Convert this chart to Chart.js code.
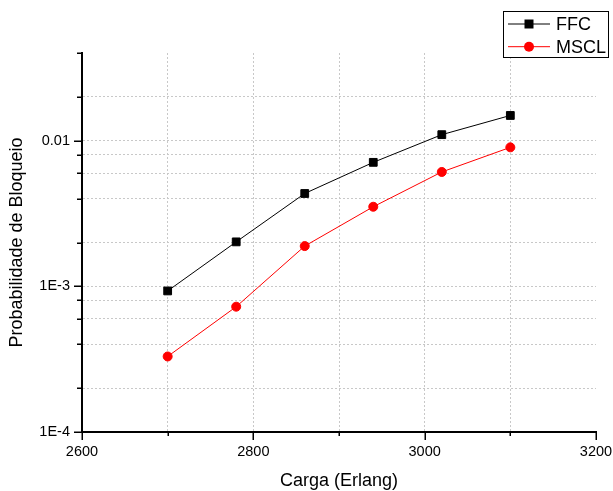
<!DOCTYPE html>
<html>
<head>
<meta charset="utf-8">
<script src="https://cdn.jsdelivr.net/npm/chart.js@4/dist/chart.umd.min.js"></script>
<style>
  html, body { margin: 0; padding: 0; background: #fff; }
  #wrap { width: 613px; height: 491px; }
</style>
</head>
<body>
<div id="wrap"><canvas id="c" width="613" height="491"></canvas></div>
<script>
// ---- data ----
const cargaValues = [2700, 2780, 2860, 2940, 3020, 3100];
const ffcValues   = [0.00093, 0.00202, 0.00434, 0.0071, 0.011, 0.0149];
const msclValues  = [0.00033, 0.000725, 0.00189, 0.00352, 0.0061, 0.0090];
const seriesNames = ['FFC', 'MSCL'];
const xTickValues = [2600, 2700, 2800, 2900, 3000, 3100, 3200];
const xTickLabels = ['2600', '', '2800', '', '3000', '', '3200'];
const yTickValues = [1e-4, 2e-4, 4e-4, 6e-4, 8e-4, 1e-3, 2e-3, 4e-3, 6e-3, 8e-3, 1e-2, 2e-2, 4e-2];
const yTickLabels = ['1E-4', '', '', '', '', '1E-3', '', '', '', '', '0.01', '', ''];
const xTitle = 'Carga (Erlang)';
const yTitle = 'Probabilidade de Bloqueio';

const FONT = '"Liberation Sans", Arial, Helvetica, sans-serif';
const GRID = '#c8c8c8';

function toPoints(xs, ys) { return xs.map((x, i) => ({ x: x, y: ys[i] })); }

const tickPlugin = {
  id: 'axisTicks',
  afterDraw(chart) {
    const ctx = chart.ctx;
    const xs = chart.scales.x, ys = chart.scales.y;
    const a = chart.chartArea;
    ctx.save();
    ctx.strokeStyle = '#000';
    ctx.lineWidth = 1.5;
    ctx.beginPath();
    yTickValues.forEach((v, i) => {
      const py = Math.round(ys.getPixelForValue(v)) + 0.25;
      const len = yTickLabels[i] ? 8 : 5;
      ctx.moveTo(a.left - len, py);
      ctx.lineTo(a.left, py);
    });
    xTickValues.forEach((v, i) => {
      const px = Math.round(xs.getPixelForValue(v)) + 0.25;
      const len = xTickLabels[i] ? 8 : 4;
      ctx.moveTo(px, a.bottom);
      ctx.lineTo(px, a.bottom + len);
    });
    ctx.stroke();
    ctx.restore();
  }
};

const legendPlugin = {
  id: 'boxLegend',
  afterDraw(chart) {
    const ctx = chart.ctx;
    const bx = 503, by = 11, bw = 105, bh = 46;
    ctx.save();
    ctx.fillStyle = '#fff';
    ctx.fillRect(bx, by, bw, bh);
    ctx.strokeStyle = '#000';
    ctx.lineWidth = 1;
    ctx.strokeRect(bx + 0.5, by + 0.5, bw, bh);
    ctx.font = '18px ' + FONT;
    ctx.textBaseline = 'middle';
    chart.data.datasets.forEach((ds, i) => {
      const cy = by + 13 + i * 22.7;
      ctx.strokeStyle = ds.borderColor;
      ctx.lineWidth = 1;
      ctx.beginPath();
      ctx.moveTo(bx + 5, cy);
      ctx.lineTo(bx + 47, cy);
      ctx.stroke();
      ctx.fillStyle = ds.borderColor;
      ctx.beginPath();
      if (ds.pointStyle === 'rect') {
        ctx.rect(bx + 26 - 4.5, cy - 4.5, 9, 9);
      } else {
        ctx.arc(bx + 26, cy, 5, 0, Math.PI * 2);
      }
      ctx.fill();
      ctx.fillStyle = '#000';
      ctx.fillText(ds.label, bx + 53, cy + 1);
    });
    ctx.restore();
  }
};

new Chart(document.getElementById('c'), {
  type: 'line',
  data: {
    datasets: [
      {
        label: seriesNames[0],
        data: toPoints(cargaValues, ffcValues),
        borderColor: '#000000',
        backgroundColor: '#000000',
        borderWidth: 1,
        pointStyle: 'rect',
        pointRadius: 5.5,
        pointHoverRadius: 5.5,
        pointBorderWidth: 1,
        tension: 0
      },
      {
        label: seriesNames[1],
        data: toPoints(cargaValues, msclValues),
        borderColor: '#ff0000',
        backgroundColor: '#ff0000',
        borderWidth: 1,
        pointStyle: 'circle',
        pointRadius: 4.5,
        pointHoverRadius: 4.5,
        pointBorderWidth: 1,
        tension: 0
      }
    ]
  },
  options: {
    responsive: false,
    animation: false,
    devicePixelRatio: 1,
    layout: { padding: { top: 53, right: 0, left: 0, bottom: 0 } },
    plugins: {
      legend: { display: false },
      tooltip: { enabled: false }
    },
    scales: {
      x: {
        type: 'linear',
        min: 2600,
        max: 3200,
        afterBuildTicks(scale) { scale.ticks = xTickValues.map(v => ({ value: v })); },
        afterFit(scale) { scale.height = 59; scale.paddingRight = 17; scale.paddingLeft = 0; },
        ticks: {
          autoSkip: false,
          maxRotation: 0,
          padding: 11,
          color: '#000',
          font: { family: FONT, size: 14.5 },
          callback(value) { const i = xTickValues.indexOf(value); return i >= 0 ? xTickLabels[i] : ''; }
        },
        grid: {
          drawTicks: false,
          lineWidth: 1,
          color(ctx) {
            const v = ctx.tick ? ctx.tick.value : null;
            return (v === xTickValues[0] || v === xTickValues[xTickValues.length - 1]) ? 'rgba(0,0,0,0)' : GRID;
          }
        },
        border: { display: true, color: '#000', width: 2, dash: [2, 2] },
        title: {
          display: true,
          text: xTitle,
          color: '#000',
          font: { family: FONT, size: 18, lineHeight: 1.1 },
          padding: { top: 0, bottom: 0 }
        }
      },
      y: {
        type: 'logarithmic',
        min: 1e-4,
        max: 0.04,
        afterBuildTicks(scale) { scale.ticks = yTickValues.map(v => ({ value: v })); },
        afterFit(scale) { scale.width = 82; },
        ticks: {
          autoSkip: false,
          padding: 12,
          color: '#000',
          font: { family: FONT, size: 14.5 },
          callback(value) {
            const i = yTickValues.findIndex(t => Math.abs(t - value) / t < 1e-6);
            return i >= 0 ? yTickLabels[i] : '';
          }
        },
        grid: {
          drawTicks: false,
          lineWidth: 1,
          color(ctx) {
            const v = ctx.tick ? ctx.tick.value : null;
            if (v === null) return GRID;
            const first = yTickValues[0], last = yTickValues[yTickValues.length - 1];
            return (Math.abs(v - first) / first < 1e-6 || Math.abs(v - last) / last < 1e-6) ? 'rgba(0,0,0,0)' : GRID;
          }
        },
        border: { display: true, color: '#000', width: 2, dash: [2, 2] },
        title: {
          display: true,
          text: yTitle,
          color: '#000',
          font: { family: FONT, size: 18, lineHeight: 1.1 },
          padding: { top: 7, bottom: 0 }
        }
      }
    }
  },
  plugins: [tickPlugin, legendPlugin]
});
</script>
</body>
</html>
